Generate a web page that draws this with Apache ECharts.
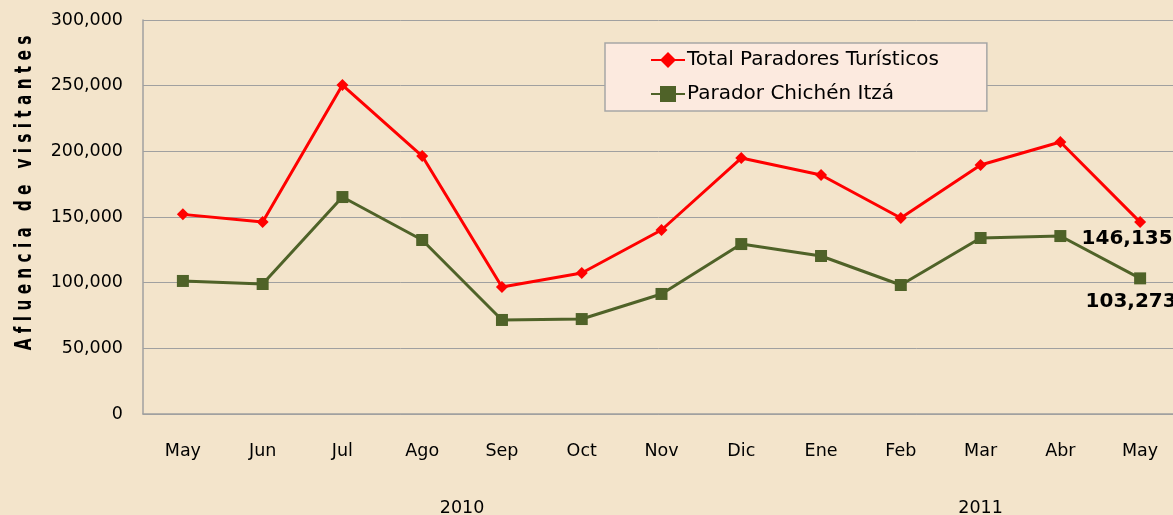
<!DOCTYPE html>
<html>
<head>
<meta charset="utf-8">
<script src="https://cdn.jsdelivr.net/npm/echarts@6/dist/echarts.min.js"></script>
<style>
html,body{margin:0;padding:0;background:#F3E4CB;}
#c{width:1173px;height:515px;}
</style>
</head>
<body>
<div id="c"></div>
<script>
const months = ['May','Jun','Jul','Ago','Sep','Oct','Nov','Dic','Ene','Feb','Mar','Abr','May'];
const years = ['2010','2011'];
const yearCenters = [3.5, 10];
const totalParadores = [152000, 146200, 250500, 196400, 96700, 107400, 140100, 194900, 182000, 149200, 189600, 207100, 146135];
const chichenItza = [101300, 99000, 165200, 132500, 71600, 72300, 91400, 129400, 120300, 98200, 134000, 135500, 103273];
const seriesNames = ['Total Paradores Turísticos', 'Parador Chichén Itzá'];
const yTitle = 'Afluencia de visitantes';

const FONT = 'DejaVu Sans';
function fmt(v){ return v.toLocaleString('en-US'); }
function spaced(s){ return s.split('').join(' '); }

function withLastLabel(arr, offset){
  return arr.map((v,i)=> i===arr.length-1 ? {
    value: v,
    label: {show:true, position:'bottom', distance:0, offset:offset,
      formatter: p=>fmt(p.value), fontFamily:FONT, fontWeight:'bold', fontSize:20, color:'#000'}
  } : v);
}

const chart = echarts.init(document.getElementById('c'), null, {renderer:'canvas'});
chart.setOption({
  backgroundColor:'#F3E4CB',
  animation:false,
  grid:{left:143, width:1037, top:20, height:394, containLabel:false, outerBoundsMode:'none'},
  legend:{
    left:605, top:43, orient:'vertical',
    backgroundColor:'#FCEADF', borderColor:'#A6A6A6', borderWidth:1.5, borderRadius:0,
    padding:[7,48,7,45], itemGap:14, itemWidth:34, itemHeight:20,
    textStyle:{fontFamily:FONT, fontSize:20, color:'#000', padding:[0,0,0,-3]},
    data: seriesNames
  },
  xAxis:[{
    type:'category', data:months, boundaryGap:true,
    axisLine:{show:true, onZero:false, lineStyle:{color:'#A0A0A0', width:1.5}},
    axisTick:{show:false},
    axisLabel:{color:'#000', fontFamily:FONT, fontSize:17.5, margin:28, interval:0}
  },{
    type:'value', position:'bottom', min:-0.5, max:12.5, interval:0.5,
    axisLine:{show:false, onZero:false}, axisTick:{show:false}, splitLine:{show:false},
    axisLabel:{color:'#000', fontFamily:FONT, fontSize:17.5, margin:85, showMinLabel:true, showMaxLabel:true,
      formatter: v => { const k = yearCenters.findIndex(c=>Math.abs(c-v)<1e-6); return k>=0 ? years[k] : ''; }}
  }],
  yAxis:{
    type:'value', min:0, max:300000, interval:50000,
    axisLine:{show:true, onZero:false, lineStyle:{color:'#A0A0A0', width:1.5}},
    axisTick:{show:false},
    splitLine:{show:true, lineStyle:{color:'#A0A0A0', width:1}},
    axisLabel:{color:'#000', fontFamily:FONT, fontSize:17.5, margin:20, formatter: v=>fmt(v)}
  },
  graphic:[{
    type:'text', x:25, y:193, rotation:Math.PI/2, scaleX:0.9, scaleY:1.3,
    style:{text:spaced(yTitle), fontFamily:FONT, fontWeight:'bold', fontSize:17, fill:'#000',
      align:'center', verticalAlign:'middle'}
  }],
  series:[{
    name:seriesNames[0], type:'line', xAxisIndex:0,
    data: withLastLabel(totalParadores, [-13,1]),
    symbol:'diamond', symbolSize:12,
    lineStyle:{color:'#FF0000', width:3},
    itemStyle:{color:'#FF0000'}
  },{
    name:seriesNames[1], type:'line', xAxisIndex:0,
    data: withLastLabel(chichenItza, [-9,7]),
    symbol:'rect', symbolSize:12,
    lineStyle:{color:'#4F6228', width:3},
    itemStyle:{color:'#4F6228'}
  }]
});
</script>
</body>
</html>
